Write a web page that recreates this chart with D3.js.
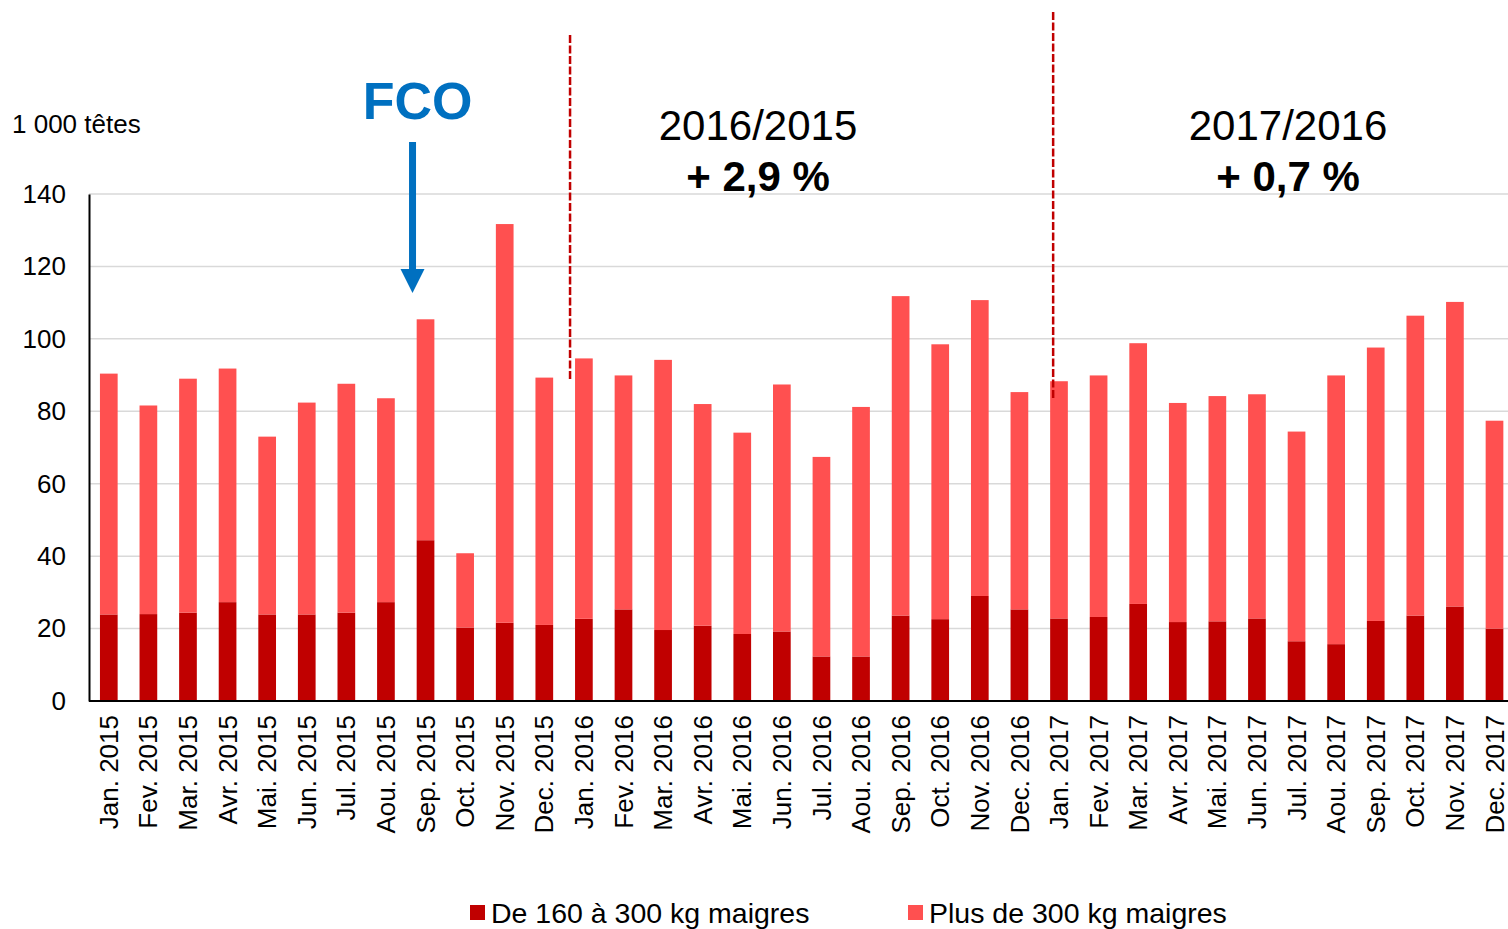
<!DOCTYPE html>
<html>
<head>
<meta charset="utf-8">
<script src="https://cdn.jsdelivr.net/npm/d3@7"></script>
<style>
  html, body { margin: 0; padding: 0; background: #fff; }
  svg { display: block; font-family: "Liberation Sans", Arial, sans-serif; }
</style>
</head>
<body>
<svg id="chart" width="1508" height="929"></svg>
<script>
const categories = [
  "Jan. 2015","Fev. 2015","Mar. 2015","Avr. 2015","Mai. 2015","Jun. 2015",
  "Jul. 2015","Aou. 2015","Sep. 2015","Oct. 2015","Nov. 2015","Dec. 2015",
  "Jan. 2016","Fev. 2016","Mar. 2016","Avr. 2016","Mai. 2016","Jun. 2016",
  "Jul. 2016","Aou. 2016","Sep. 2016","Oct. 2016","Nov. 2016","Dec. 2016",
  "Jan. 2017","Fev. 2017","Mar. 2017","Avr. 2017","Mai. 2017","Jun. 2017",
  "Jul. 2017","Aou. 2017","Sep. 2017","Oct. 2017","Nov. 2017","Dec. 2017"
];
const seriesNames = ["De 160 à 300 kg maigres", "Plus de 300 kg maigres"];
const de160a300 = [
  23.9, 24.0, 24.4, 27.3, 23.9, 23.9, 24.4, 27.3, 44.4, 20.3, 21.6, 21.0,
  22.7, 25.3, 19.6, 20.8, 18.5, 19.2, 12.3, 12.3, 23.6, 22.6, 29.0, 25.3,
  22.8, 23.2, 26.8, 21.8, 22.0, 22.8, 16.5, 15.7, 22.1, 23.6, 26.1, 20.0
];
const plusDe300 = [
  66.5, 57.6, 64.6, 64.5, 49.1, 58.5, 63.2, 56.3, 61.0, 20.5, 110.1, 68.3,
  71.9, 64.6, 74.6, 61.2, 55.6, 68.2, 55.1, 68.9, 88.2, 75.9, 81.7, 60.0,
  65.5, 66.7, 72.0, 60.5, 62.2, 61.9, 57.9, 74.2, 75.5, 82.8, 84.1, 57.4
];
const yTicks = [0, 20, 40, 60, 80, 100, 120, 140];
const unitLabel = "1 000 têtes";
const annotations = [
  { title: "2016/2015", value: "+ 2,9 %" },
  { title: "2017/2016", value: "+ 0,7 %" }
];
const eventLabel = "FCO";

const colors = ["#C00000", "#FF5050"];
const svg = d3.select("#chart");

const x = d3.scaleBand().domain(categories)
  .range([89, 1514.3]).paddingInner(0.553).paddingOuter(0.2765);
const y = d3.scaleLinear().domain([0, 140]).range([701, 194]);

// gridlines
svg.append("g").selectAll("line").data(yTicks.filter(d => d > 0)).join("line")
  .attr("x1", 89).attr("x2", 1508)
  .attr("y1", d => y(d)).attr("y2", d => y(d))
  .attr("stroke", "#d9d9d9").attr("stroke-width", 1.5);

// stacked bars
const rows = categories.map((c, i) => ({ cat: c, a: de160a300[i], b: plusDe300[i] }));
const stack = d3.stack().keys(["a", "b"])(rows);
svg.append("g").selectAll("g").data(stack).join("g")
  .attr("fill", (d, i) => colors[i])
  .selectAll("rect").data(d => d).join("rect")
  .attr("x", d => x(d.data.cat))
  .attr("width", x.bandwidth())
  .attr("y", d => y(d[1]))
  .attr("height", d => y(d[0]) - y(d[1]));

// y axis
const yAxis = svg.append("g").attr("transform", "translate(89,0)")
  .call(d3.axisLeft(y).tickValues(yTicks).tickSize(0).tickPadding(23));
yAxis.select(".domain").attr("stroke", "#000").attr("stroke-width", 2);
yAxis.selectAll("text").attr("font-size", 26).attr("fill", "#000")
  .attr("font-family", "Liberation Sans, Arial, sans-serif");

// x axis
const xAxis = svg.append("g").attr("transform", "translate(0,701)")
  .call(d3.axisBottom(x).tickSize(0).tickPadding(0));
xAxis.select(".domain").attr("stroke", "#000").attr("stroke-width", 2)
  .attr("d", "M89,0H1508");
xAxis.selectAll("text")
  .attr("font-size", 26).attr("fill", "#000")
  .attr("font-family", "Liberation Sans, Arial, sans-serif")
  .attr("text-anchor", "end")
  .attr("transform", "rotate(-90)")
  .attr("x", -14).attr("y", 0).attr("dy", "0.35em");

// unit label
svg.append("text").attr("x", 12).attr("y", 133)
  .attr("font-size", 26).attr("fill", "#000").text(unitLabel);

// dashed separators
const sepX = [x("Jan. 2016") - 5, x("Jan. 2017") + 3];
const sepY = [[35, 380], [12, 398]];
svg.append("g").selectAll("line").data(sepX).join("line")
  .attr("x1", d => d).attr("x2", d => d)
  .attr("y1", (d, i) => sepY[i][0]).attr("y2", (d, i) => sepY[i][1])
  .attr("stroke", "#C00000").attr("stroke-width", 2.5)
  .attr("stroke-dasharray", "8,2.5");

// period annotations
const annX = [758, 1288];
const ann = svg.append("g").selectAll("g").data(annotations).join("g");
ann.append("text").attr("x", (d, i) => annX[i]).attr("y", 140)
  .attr("text-anchor", "middle").attr("font-size", 42).attr("fill", "#000")
  .text(d => d.title);
ann.append("text").attr("x", (d, i) => annX[i]).attr("y", 191)
  .attr("text-anchor", "middle").attr("font-size", 42).attr("font-weight", "bold")
  .attr("fill", "#000").text(d => d.value);

// FCO event
const fcoX = x("Sep. 2015") + x.bandwidth() / 2 - 13;
svg.append("text").attr("x", fcoX + 5).attr("y", 119)
  .attr("text-anchor", "middle").attr("font-size", 52).attr("font-weight", "bold")
  .attr("fill", "#0070C0").text(eventLabel);
svg.append("line").attr("x1", fcoX).attr("x2", fcoX).attr("y1", 142).attr("y2", 272)
  .attr("stroke", "#0070C0").attr("stroke-width", 7);
svg.append("path")
  .attr("d", `M${fcoX - 12},269 L${fcoX + 12},269 L${fcoX},293 Z`)
  .attr("fill", "#0070C0");

// legend
const legX = [470, 908];
const leg = svg.append("g").selectAll("g").data(seriesNames).join("g")
  .attr("transform", (d, i) => `translate(${legX[i]},0)`);
leg.append("rect").attr("x", 0).attr("y", 905).attr("width", 15).attr("height", 15)
  .attr("fill", (d, i) => colors[i]);
leg.append("text").attr("x", 21).attr("y", 923).attr("font-size", 28.5)
  .attr("fill", "#000").text(d => d);
</script>
</body>
</html>
